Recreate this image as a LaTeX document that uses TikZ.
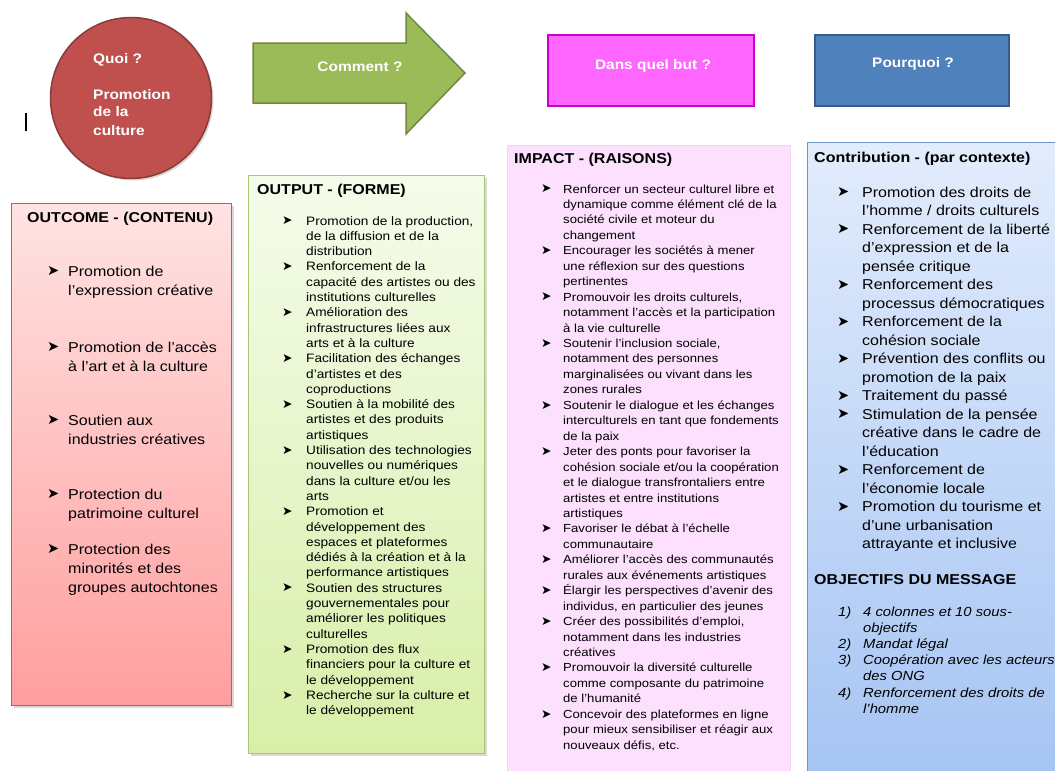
\documentclass[tikz,border=0pt]{standalone}
\usepackage{fontspec}
\setmainfont{Liberation Sans}[FakeStretch=1.12]
\newfontfamily\dejavu{DejaVu Sans}
\usetikzlibrary{shadows}

\definecolor{quoired}{HTML}{C0504D}
\definecolor{quoiborder}{HTML}{8C3A38}
\definecolor{arrowgreen}{HTML}{9BBB59}
\definecolor{arrowborder}{HTML}{71893F}
\definecolor{butfill}{HTML}{FF66FF}
\definecolor{butborder}{HTML}{CC00CC}
\definecolor{pqfill}{HTML}{4F81BD}
\definecolor{pqborder}{HTML}{385D8A}
\definecolor{outctop}{HTML}{FFE3E3}
\definecolor{outcbot}{HTML}{FF9E9E}
\definecolor{outcborder}{HTML}{CC5555}
\definecolor{outptop}{HTML}{F5FCEB}
\definecolor{outpbot}{HTML}{D8EFA8}
\definecolor{outpborder}{HTML}{A8C870}
\definecolor{impfill}{HTML}{FDE0FD}
\definecolor{imporder}{HTML}{F8D0F8}
\definecolor{contop}{HTML}{E2ECFC}
\definecolor{conbot}{HTML}{A5C4F3}
\definecolor{conborder}{HTML}{6F95C8}

\newlength\bulw
\newcommand\bulsym{}
\newcommand\bi[1]{\hbox{\makebox[\bulw][l]{\bulsym}#1}}
\newcommand\bc[1]{\hbox{\hspace*{\bulw}#1}}
\newcommand\lst[4]{\fontsize{#1}{#2}\selectfont\lineskiplimit=-50pt\setlength\bulw{#3}\def\bulsym{{\dejavu\fontsize{#4}{#4}\selectfont\raisebox{0.02em}{➤}}}}

\begin{document}
\begin{tikzpicture}[x=1pt,y=-1pt,
  txt/.style={inner sep=0pt, anchor=base west},
  ttl/.style={txt, font=\bfseries\fontsize{14.3}{16}\selectfont},
  hdr/.style={inner sep=0pt, anchor=base, text=white, font=\bfseries\fontsize{13.8}{18}\selectfont},
  panel/.style={rectangle, inner sep=0pt, anchor=north west, line width=1pt},
  shadowed/.style={drop shadow={shadow xshift=2pt, shadow yshift=-2pt, opacity=0.3}}]

\useasboundingbox (0,0) rectangle (1055,771);

% cursor mark
\coordinate (curtop) at (26,113);
\coordinate (curbot) at (26,131);
\draw[line width=1.4pt] (curtop) -- (curbot);

% --- top row shapes ---
\node[circle, minimum size=161pt, inner sep=0pt, fill=quoired, draw=quoiborder, line width=1.5pt, shadowed] (quoi) at (131,98) {};
\node[hdr, anchor=base west] (quoitext) at (93,63) {\vtop{\lineskiplimit=-50pt\baselineskip=18pt\hbox{Quoi ?}\hbox{}\hbox{Promotion}\hbox{de la}\hbox{culture}}};

\draw[fill=arrowgreen, draw=arrowborder, line width=1.5pt]
  (253,43) -- (406,43) -- (406,13) -- (465,73) -- (406,134) -- (406,103) -- (253,103) -- cycle;
\node[hdr] (comment) at (360,71) {Comment ?};

\node[panel, minimum width=206pt, minimum height=71pt, fill=butfill, draw=butborder, line width=2pt] (but) at (547,34) {};
\node[hdr] (buttext) at (653,69) {Dans quel but ?};

\node[panel, minimum width=194pt, minimum height=71pt, fill=pqfill, draw=pqborder, line width=2pt] (pq) at (814,34) {};
\node[hdr] (pqtext) at (913,67) {Pourquoi ?};

% --- panels ---
\node[panel, minimum width=220pt, minimum height=502pt, top color=outctop, bottom color=outcbot, draw=outcborder, shadowed] (outcome) at (11,203) {};
\node[panel, minimum width=236pt, minimum height=578pt, top color=outptop, bottom color=outpbot, draw=outpborder, shadowed] (output) at (248,175) {};
\node[panel, minimum width=283pt, minimum height=630pt, fill=impfill, draw=imporder, line width=0.6pt] (impact) at (507,145) {};
\node[panel, minimum width=260pt, minimum height=640pt, top color=contop, bottom color=conbot, draw=conborder] (contrib) at (807,142) {};

% --- titles ---
\node[ttl] (outctitle) at (27,222) {OUTCOME - (CONTENU)};
\node[ttl] (outptitle) at (257,194) {OUTPUT - (FORME)};
\node[ttl] (imptitle) at (514,163) {IMPACT - (RAISONS)};
\node[ttl] (contitle) at (814,162) {Contribution  - (par contexte)};
\node[ttl] (objtitle) at (814,584) {OBJECTIFS DU MESSAGE};

% --- outcome items ---
\node[txt] (oc1) at (47,276) {\vtop{\lst{14.3}{19.5}{21pt}{14.5}\bi{Promotion de}\bc{l’expression créative}}};
\node[txt] (oc2) at (47,352) {\vtop{\lst{14.3}{19.5}{21pt}{14.5}\bi{Promotion de l’accès}\bc{à l’art et à la culture}}};
\node[txt] (oc3) at (47,425) {\vtop{\lst{14.3}{19.5}{21pt}{14.5}\bi{Soutien aux}\bc{industries créatives}}};
\node[txt] (oc4) at (47,499) {\vtop{\lst{14.3}{19.5}{21pt}{14.5}\bi{Protection du}\bc{patrimoine culturel}}};
\node[txt] (oc5) at (47,554) {\vtop{\lst{14.3}{19}{21pt}{14.5}\bi{Protection des}\bc{minorités et des}\bc{groupes autochtones}}};

% --- output list ---
\node[txt] (outplist) at (282,225) {\vtop{\lst{12.2}{15.3}{24pt}{12.5}%
\bi{Promotion de la production,}\bc{de la diffusion et de la}\bc{distribution}%
\bi{Renforcement de la}\bc{capacité des artistes ou des}\bc{institutions culturelles}%
\bi{Amélioration des}\bc{infrastructures liées aux}\bc{arts et à la culture}%
\bi{Facilitation des échanges}\bc{d’artistes et des}\bc{coproductions}%
\bi{Soutien à la mobilité des}\bc{artistes et des produits}\bc{artistiques}%
\bi{Utilisation des technologies}\bc{nouvelles ou numériques}\bc{dans la culture et/ou les}\bc{arts}%
\bi{Promotion et}\bc{développement des}\bc{espaces et plateformes}\bc{dédiés à la création et à la}\bc{performance artistiques}%
\bi{Soutien des structures}\bc{gouvernementales pour}\bc{améliorer les politiques}\bc{culturelles}%
\bi{Promotion des flux}\bc{financiers pour la culture et}\bc{le développement}%
\bi{Recherche sur la culture et}\bc{le développement}}};

% --- impact list ---
\node[txt] (implist) at (541,193) {\vtop{\lst{11.7}{15.45}{22pt}{12.5}%
\bi{Renforcer un secteur culturel libre et}\bc{dynamique comme élément clé de la}\bc{société civile et moteur du}\bc{changement}%
\bi{Encourager les sociétés à mener}\bc{une réflexion sur des questions}\bc{pertinentes}%
\bi{Promouvoir les droits culturels,}\bc{notamment l'accès et la participation}\bc{à la vie culturelle}%
\bi{Soutenir l'inclusion sociale,}\bc{notamment des personnes}\bc{marginalisées ou vivant dans les}\bc{zones rurales}%
\bi{Soutenir le dialogue et les échanges}\bc{interculturels en tant que fondements}\bc{de la paix}%
\bi{Jeter des ponts pour favoriser la}\bc{cohésion sociale et/ou la coopération}\bc{et le dialogue transfrontaliers entre}\bc{artistes et entre institutions}\bc{artistiques}%
\bi{Favoriser le débat à l’échelle}\bc{communautaire}%
\bi{Améliorer l’accès des communautés}\bc{rurales aux événements artistiques}%
\bi{Élargir les perspectives d’avenir des}\bc{individus, en particulier des jeunes}%
\bi{Créer des possibilités d’emploi,}\bc{notamment dans les industries}\bc{créatives}%
\bi{Promouvoir la diversité culturelle}\bc{comme composante du patrimoine}\bc{de l'humanité}%
\bi{Concevoir des plateformes en ligne}\bc{pour mieux sensibiliser et réagir aux}\bc{nouveaux défis, etc.}}};

% --- contribution list ---
\node[txt] (conlist) at (837,197) {\vtop{\lst{14.3}{18.5}{25pt}{14.5}%
\bi{Promotion des droits de}\bc{l’homme / droits culturels}%
\bi{Renforcement de la liberté}\bc{d’expression et de la}\bc{pensée critique}%
\bi{Renforcement des}\bc{processus démocratiques}%
\bi{Renforcement de la}\bc{cohésion sociale}%
\bi{Prévention des conflits ou}\bc{promotion de la paix}%
\bi{Traitement du passé}%
\bi{Stimulation de la pensée}\bc{créative dans le cadre de}\bc{l’éducation}%
\bi{Renforcement de}\bc{l’économie locale}%
\bi{Promotion du tourisme et}\bc{d’une urbanisation}\bc{attrayante et inclusive}}};

% --- objectifs list ---
\node[txt] (objlist) at (838,616) {\vtop{\itshape\fontsize{13.2}{16.2}\selectfont\lineskiplimit=-50pt\setlength\bulw{25pt}%
\hbox{\makebox[\bulw][l]{1)}4 colonnes et 10 sous-}\hbox{\hspace*{\bulw}objectifs}%
\hbox{\makebox[\bulw][l]{2)}Mandat légal}%
\hbox{\makebox[\bulw][l]{3)}Coopération avec les acteurs}\hbox{\hspace*{\bulw}des ONG}%
\hbox{\makebox[\bulw][l]{4)}Renforcement des droits de}\hbox{\hspace*{\bulw}l'homme}}};

\end{tikzpicture}
\end{document}
